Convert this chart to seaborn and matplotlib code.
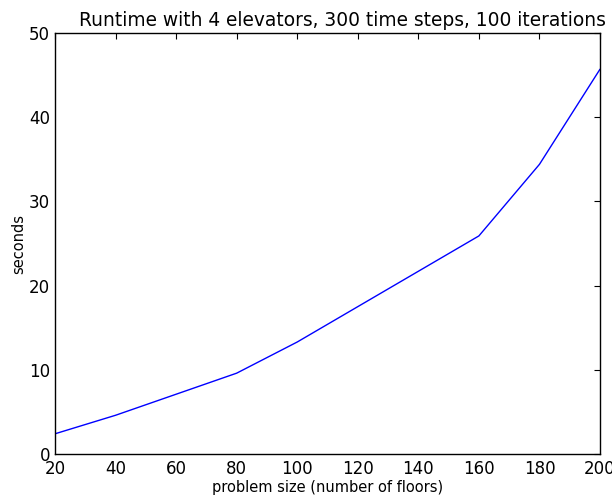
import matplotlib
matplotlib.use("Agg")
import matplotlib.pyplot as plt
import seaborn as sns
import pandas as pd

floors = [20, 40, 60, 80, 100, 120, 140, 160, 180, 200]
seconds = [2.4, 4.6, 7.1, 9.6, 13.3, 17.5, 21.7, 25.9, 34.4, 45.7]

sns.set_style("white")
plt.rcParams['font.family'] = ['DejaVu Sans']
plt.rcParams['text.color'] = 'black'
plt.rcParams['axes.labelcolor'] = 'black'
plt.rcParams['xtick.direction'] = 'in'
plt.rcParams['ytick.direction'] = 'in'

df = pd.DataFrame({"floors": floors, "seconds": seconds})

fig = plt.figure(figsize=(6.12, 4.97), dpi=100)
ax = fig.add_axes([55/612, 43/497, 545/612, 421/497])
sns.lineplot(data=df, x="floors", y="seconds", ax=ax, color=(0, 0, 1), linewidth=1.0)
ax.set_xlim(20, 200)
ax.set_ylim(0, 50)
ax.set_xticks(range(20, 201, 20))
ax.set_yticks(range(0, 51, 10))
ax.tick_params(axis='both', which='both', direction='in', top=True, right=True,
               length=4, width=0.8, labelsize=12, colors='black')
ax.tick_params(axis='x', pad=4.5)
ax.tick_params(axis='y', pad=3.5)
for s in ax.spines.values():
    s.set_color('black')
    s.set_linewidth(1.0)
ax.set_xlabel("problem size (number of floors)", fontsize=10.5, labelpad=1.5, color='black')
ax.set_ylabel("seconds", fontsize=10.5, labelpad=2, color='black')
ax.set_title("Runtime with 4 elevators, 300 time steps, 100 iterations",
             fontsize=13.4, pad=5, x=0.527, color='black')
fig.savefig("out.png", dpi=100)
